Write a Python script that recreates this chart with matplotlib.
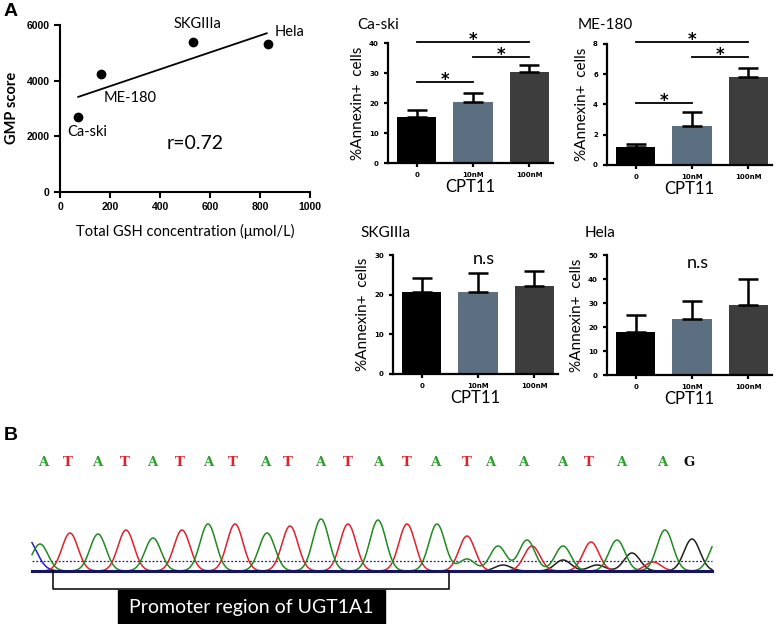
import matplotlib
matplotlib.use('Agg')
import matplotlib.pyplot as plt
import numpy as np

# ---- panel A, scatter ----
cell_lines = ['Ca-ski', 'ME-180', 'SKGIIIa', 'Hela']
gsh = [73, 163, 533, 833]
gmp = [2700, 4240, 5400, 5300]

# ---- panel A, bars (%Annexin+ cells) ----
doses = ['0', '10nM', '100nM']
bar_data = {
    'Ca-ski':  ([15.3, 20.2, 30.5], [2.3, 3.1, 2.3]),
    'ME-180':  ([1.17, 2.6, 5.82], [0.22, 0.88, 0.58]),
    'SKGIIIa': ([20.7, 20.6, 22.1], [3.6, 4.8, 3.8]),
    'Hela':    ([17.8, 23.3, 29.3], [7.2, 7.6, 10.8]),
}
yticks = {
    'Ca-ski': [0, 10, 20, 30, 40],
    'ME-180': [0, 2, 4, 6, 8],
    'SKGIIIa': [0, 10, 20, 30],
    'Hela': [0, 10, 20, 30, 40, 50],
}
# significance brackets: (from bar, to bar, height)
sig = {
    'Ca-ski': [(0, 2, 40.2), (1, 2, 35.4), (0, 1, 27.1)],
    'ME-180': [(0, 2, 8.13), (1, 2, 7.12), (0, 1, 4.07)],
}

# ---- panel B, sequence trace ----
bases = list('ATATATATATATATATAAATAAG')
base_x = [43, 68, 97, 125, 152, 180, 208, 233, 265, 288, 320, 348, 378,
          407, 435, 467, 490, 523, 562, 589, 621, 662, 689]
green_x = [40, 98, 153, 208, 267, 321, 378, 437, 467, 498, 527, 563, 617, 665, 718]
green_h = [27, 37, 33, 47, 38, 52, 51, 47, 12, 25, 31, 25, 31, 41, 32]
red_x = [70, 126, 182, 235, 290, 348, 407, 467, 532, 591, 653]
red_h = [38, 41, 41, 47, 45, 47, 47, 35, 25, 29, 9]
black_x = [503, 563, 597, 632, 692]
black_h = [6, 11, 6, 18, 32]
blue_x = [26]
blue_h = [34]

W, H = 777, 624
fig = plt.figure(figsize=(W / 100, H / 100), dpi=100)
LAB = 'Lato'


def px_axes(l, t, r, b):
    return fig.add_axes([l / W, 1 - b / H, (r - l) / W, (b - t) / H])


def px_text(x, y, s, **kw):
    return fig.text(x / W, 1 - y / H, s, **kw)


def style(ax, lw=1.5):
    for s in ['top', 'right']:
        ax.spines[s].set_visible(False)
    for s in ['left', 'bottom']:
        ax.spines[s].set_linewidth(lw)
    ax.tick_params(width=lw, length=4, direction='out')


# scatter
ax = px_axes(60, 25, 310, 192)
style(ax)
ax.plot(gsh, gmp, 'o', color='black', ms=6)
k, b0 = np.polyfit(gsh, gmp, 1)
xl = np.array([73, 827])
ax.plot(xl, k * xl + b0, color='black', lw=1.3)
ax.set_xlim(0, 1000)
ax.set_ylim(0, 6000)
ax.set_xticks([0, 200, 400, 600, 800, 1000])
ax.set_yticks([0, 2000, 4000, 6000])
for t in ax.get_xticklabels() + ax.get_yticklabels():
    t.set_fontfamily('Liberation Sans')
    t.set_fontweight('bold')
    t.set_fontsize(7.5)
ax.text(28, 2156, 'Ca-ski', fontsize=10.5, family=LAB, va='center')
ax.text(176, 3377, 'ME-180', fontsize=10.5, family=LAB, va='center')
ax.text(548, 6036, 'SKGIIIa', fontsize=10.5, family=LAB, va='center', ha='center')
ax.text(860, 5748, 'Hela', fontsize=10.5, family=LAB, va='center')
ax.text(428, 1760, 'r=0.72', fontsize=14, family=LAB, va='center')
px_text(12, 108, 'GMP score', rotation=90, fontsize=10.5, family=LAB,
        fontweight='bold', ha='center', va='center')
px_text(185, 231, 'Total GSH concentration (\u03bcmol/L)', fontsize=10.5,
        family=LAB, ha='center', va='center')
px_text(4, 11, 'A', fontsize=14, fontweight='bold', family='Liberation Sans', va='center')

# bar panels
colors = ['#000000', '#5b6f80', '#3d3d3d']
panels = {
    'Ca-ski': (388, 43, 553, 163),
    'ME-180': (607, 44, 772, 165),
    'SKGIIIa': (393, 255, 558, 374),
    'Hela': (607, 255, 772, 375),
}
titles_at = {'Ca-ski': (357, 25), 'ME-180': (578, 25),
             'SKGIIIa': (360, 233), 'Hela': (585, 233)}
ns_y = {'SKGIIIa': 29.0, 'Hela': 46.5}
for name, (l, t, r, bt) in panels.items():
    ax = px_axes(l, t, r, bt)
    style(ax, 1.6)
    means, errs = bar_data[name]
    xs = np.arange(len(doses))
    ax.bar(xs, means, width=0.7, color=colors)
    ax.errorbar(xs, means, yerr=[np.zeros(3), errs], fmt='none', ecolor='black',
                elinewidth=1.8, capsize=7, capthick=1.8)
    ax.set_xlim(-0.51, 2.42)
    yt = yticks[name]
    ax.set_ylim(0, yt[-1])
    ax.set_yticks(yt)
    ax.set_xticks(xs)
    ax.set_xticklabels(doses)
    ax.tick_params(axis='both', labelsize=5, length=3)
    for tl in ax.get_xticklabels() + ax.get_yticklabels():
        tl.set_fontweight('bold')
    ax.set_ylabel('%Annexin+  cells', fontsize=11, family=LAB, labelpad=3)
    ax.set_xlabel('CPT11', fontsize=12, family=LAB, labelpad=1)
    tx0, ty0 = titles_at[name]
    px_text(tx0, ty0, name, fontsize=11, family=LAB, va='center', ha='left')
    if name in sig:
        for a, c, h in sig[name]:
            ax.plot([a, c], [h, h], color='black', lw=1.3, clip_on=False)
            ax.annotate('*', ((a + c) / 2, h), xytext=(0, -5), textcoords='offset points',
                        ha='center', va='bottom', fontsize=12, fontweight='bold',
                        annotation_clip=False)
    if name in ns_y:
        ax.text(1.1, ns_y[name], 'n.s', fontsize=13, family=LAB, ha='center', va='center')

# panel B
axb = fig.add_axes([0, 0, 1, 1])
axb.set_xlim(0, W)
axb.set_ylim(H, 0)
axb.axis('off')
px_text(4, 436, 'B', fontsize=14, fontweight='bold', family='Liberation Sans', va='center')
base_col = {'A': '#2aa02a', 'T': '#e0202a', 'G': '#111111'}
for ch, x in zip(bases, base_x):
    axb.text(x, 462, ch, color=base_col[ch], fontsize=9.5, family='DejaVu Serif',
             fontweight='bold', ha='center', va='center')

base_y = 571
tx = np.linspace(32, 712, 1400)
sigma = 8.0


def trace(px, ph, s=sigma):
    sgn = np.zeros_like(tx)
    for p, h in zip(px, ph):
        sgn += h * np.exp(-0.5 * ((tx - p) / s) ** 2)
    return base_y - sgn


axb.plot([32, 712], [561, 561], color='#1a1aa0', lw=0.9, ls=(0, (1.5, 1.5)))
axb.plot(tx, trace(black_x, black_h), color='#202020', lw=1.1)
axb.plot(tx, trace(blue_x, blue_h, 10), color='#2020d0', lw=1.1)
axb.plot(tx, trace(red_x, red_h), color='#e0202a', lw=1.1)
axb.plot(tx, trace(green_x, green_h), color='#1f8a1f', lw=1.1)
axb.plot([32, 712], [base_y, base_y], color='#151560', lw=2.2)

# bracket and label box
axb.plot([53, 53, 449, 449], [571, 589, 589, 571], color='black', lw=1.1)
axb.add_patch(plt.Rectangle((118, 590), 267, 40, color='black'))
axb.text(251, 607, 'Promoter region of UGT1A1', color='white', fontsize=14, family=LAB,
         ha='center', va='center')

fig.savefig('out.png', dpi=100)
